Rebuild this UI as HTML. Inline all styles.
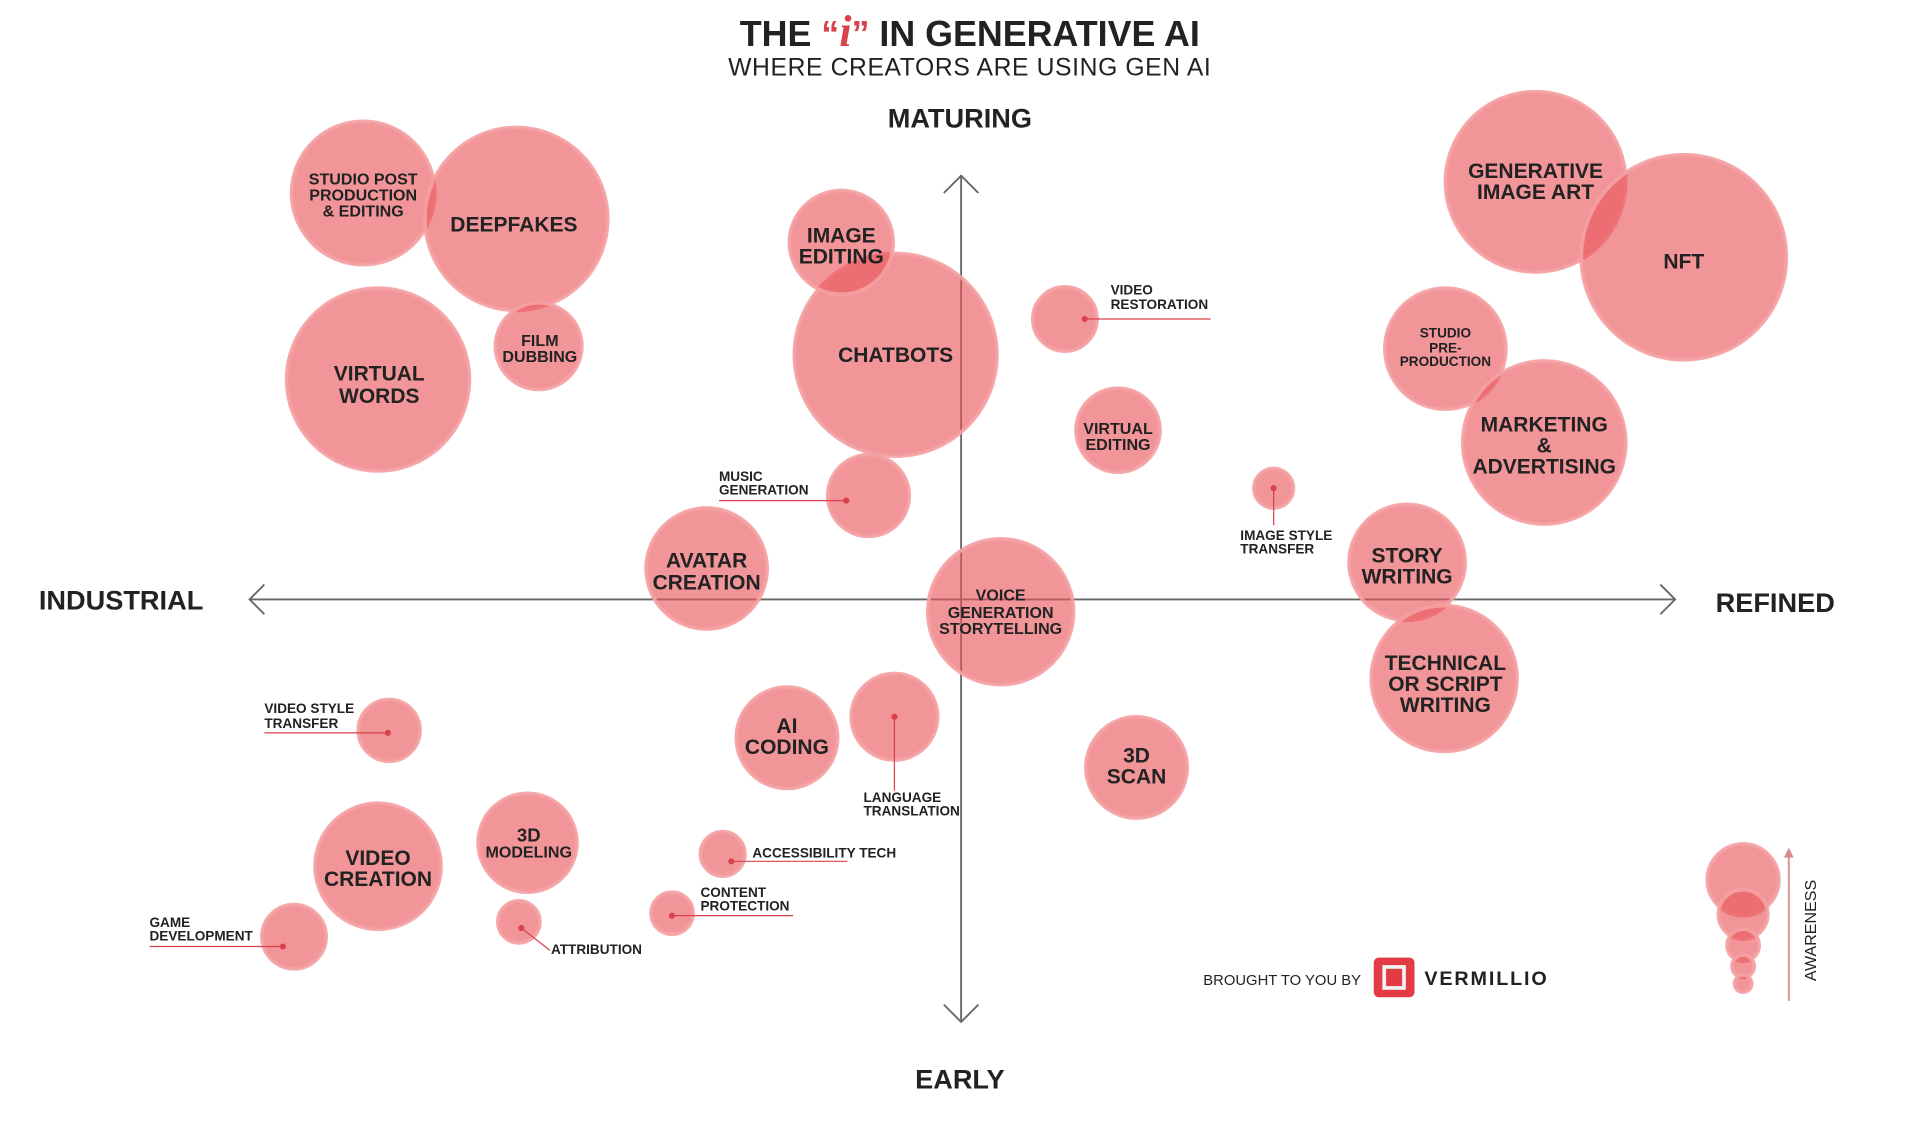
<!DOCTYPE html>
<html><head><meta charset="utf-8"><style>
html,body{margin:0;padding:0;background:#fff;}
svg{display:block;}
text{font-family:"Liberation Sans",sans-serif;fill:#222;}
.b{font-weight:bold;text-anchor:middle;}
.s{font-weight:bold;font-size:11px;}
circle.c{fill:rgba(232,84,90,0.62);stroke:rgba(244,160,162,0.9);stroke-width:3;}
</style></head><body>
<svg width="1921" height="1121" viewBox="0 0 1555 907" xmlns="http://www.w3.org/2000/svg">
<rect width="1555" height="907" fill="#fff"/>
<text x="785" y="37" class="b" font-size="29" fill="#23272b">THE <tspan fill="#d8434b">“</tspan><tspan fill="#d8434b" font-family="Liberation Serif" font-style="italic" font-size="36">i</tspan><tspan fill="#d8434b">”</tspan> IN GENERATIVE AI</text>
<text x="785" y="61" text-anchor="middle" font-size="20" fill="#333" style="letter-spacing:0.5px">WHERE CREATORS ARE USING GEN AI</text>
<text x="777" y="103" class="b" font-size="22">MATURING</text>
<text x="777" y="881" class="b" font-size="22">EARLY</text>
<text x="98" y="493" class="b" font-size="22">INDUSTRIAL</text>
<text x="1437" y="495" class="b" font-size="22">REFINED</text>
<g stroke="#666" stroke-width="1.5" fill="none">
<line x1="202" y1="485" x2="1356" y2="485"/>
<polyline points="214,473 202,485 214,497"/><polyline points="1344,473 1356,485 1344,497"/>
<line x1="778" y1="142" x2="778" y2="827"/>
<polyline points="764,156 778,142 792,156"/><polyline points="764,813 778,827 792,813"/>
</g>
<g>
<circle class="c" cx="294" cy="156" r="58"/>
<circle class="c" cx="418" cy="177" r="74"/>
<circle class="c" cx="306" cy="307" r="74"/>
<circle class="c" cx="436" cy="280" r="35"/>
<circle class="c" cx="725" cy="287" r="82"/>
<circle class="c" cx="681" cy="196" r="42"/>
<circle class="c" cx="862" cy="258" r="26"/>
<circle class="c" cx="905" cy="348" r="34"/>
<circle class="c" cx="703" cy="401" r="33"/>
<circle class="c" cx="572" cy="460" r="49"/>
<circle class="c" cx="810" cy="495" r="59"/>
<circle class="c" cx="1031" cy="395" r="16"/>
<circle class="c" cx="1139" cy="455" r="47"/>
<circle class="c" cx="1169" cy="549" r="59"/>
<circle class="c" cx="1243" cy="147" r="73"/>
<circle class="c" cx="1363" cy="208" r="83"/>
<circle class="c" cx="1170" cy="282" r="49"/>
<circle class="c" cx="1250" cy="358" r="66"/>
<circle class="c" cx="920" cy="621" r="41"/>
<circle class="c" cx="724" cy="580" r="35"/>
<circle class="c" cx="637" cy="597" r="41"/>
<circle class="c" cx="315" cy="591" r="25"/>
<circle class="c" cx="306" cy="701" r="51"/>
<circle class="c" cx="427" cy="682" r="40"/>
<circle class="c" cx="585" cy="691" r="18"/>
<circle class="c" cx="544" cy="739" r="17"/>
<circle class="c" cx="420" cy="746" r="17"/>
<circle class="c" cx="238" cy="758" r="26"/>
<circle class="c" cx="1411" cy="712" r="29"/>
<circle class="c" cx="1411" cy="740" r="20"/>
<circle class="c" cx="1411" cy="765" r="13"/>
<circle class="c" cx="1411" cy="782" r="9"/>
<circle class="c" cx="1411" cy="796" r="7"/>
</g>
<g class="b" font-size="13">
<text x="294" y="149">STUDIO POST</text><text x="294" y="162">PRODUCTION</text><text x="294" y="175">&amp; EDITING</text>
</g>
<g class="b" font-size="17">
<text x="416" y="187">DEEPFAKES</text>
<text x="307" y="308">VIRTUAL</text><text x="307" y="326">WORDS</text>
<text x="681" y="196">IMAGE</text><text x="681" y="213">EDITING</text>
<text x="725" y="293">CHATBOTS</text>
<text x="572" y="459">AVATAR</text><text x="572" y="477">CREATION</text>
<text x="1243" y="144">GENERATIVE</text><text x="1243" y="161">IMAGE ART</text>
<text x="1363" y="217">NFT</text>
<text x="1250" y="349">MARKETING</text><text x="1250" y="366">&amp;</text><text x="1250" y="383">ADVERTISING</text>
<text x="1139" y="455">STORY</text><text x="1139" y="472">WRITING</text>
<text x="1170" y="542">TECHNICAL</text><text x="1170" y="559">OR SCRIPT</text><text x="1170" y="576">WRITING</text>
<text x="920" y="617">3D</text><text x="920" y="634">SCAN</text>
<text x="637" y="593">AI</text><text x="637" y="610">CODING</text>
<text x="306" y="700">VIDEO</text><text x="306" y="717">CREATION</text>
</g>
<g class="b" font-size="13">
<text x="437" y="280">FILM</text><text x="437" y="293">DUBBING</text>
<text x="905" y="351">VIRTUAL</text><text x="905" y="364">EDITING</text>
<text x="810" y="486">VOICE</text><text x="810" y="500">GENERATION</text><text x="810" y="513">STORYTELLING</text>
<text x="1170" y="273" font-size="11">STUDIO</text><text x="1170" y="285" font-size="11">PRE-</text><text x="1170" y="296" font-size="11">PRODUCTION</text>
<text x="428" y="681" font-size="15">3D</text><text x="428" y="694">MODELING</text>
</g>
<g stroke="#d8434b" stroke-width="1" fill="#d8434b">
<line x1="878" y1="258" x2="980" y2="258"/><circle cx="878" cy="258" r="2"/>
<line x1="582" y1="405" x2="685" y2="405"/><circle cx="685" cy="405" r="2"/>
<line x1="1031" y1="395" x2="1031" y2="425"/><circle cx="1031" cy="395" r="2"/>
<line x1="214" y1="593" x2="314" y2="593"/><circle cx="314" cy="593" r="2"/>
<line x1="724" y1="580" x2="724" y2="640"/><circle cx="724" cy="580" r="2"/>
<line x1="592" y1="697" x2="686" y2="697"/><circle cx="592" cy="697" r="2"/>
<line x1="544" y1="741" x2="642" y2="741"/><circle cx="544" cy="741" r="2"/>
<line x1="422" y1="751" x2="445" y2="769"/><circle cx="422" cy="751" r="2"/>
<line x1="121" y1="766" x2="229" y2="766"/><circle cx="229" cy="766" r="2"/>
</g>
<g class="s">
<text x="899" y="238">VIDEO</text><text x="899" y="250">RESTORATION</text>
<text x="582" y="389">MUSIC</text><text x="582" y="400">GENERATION</text>
<text x="1004" y="437">IMAGE STYLE</text><text x="1004" y="448">TRANSFER</text>
<text x="214" y="577">VIDEO STYLE</text><text x="214" y="589">TRANSFER</text>
<text x="699" y="649">LANGUAGE</text><text x="699" y="660">TRANSLATION</text>
<text x="609" y="694">ACCESSIBILITY TECH</text>
<text x="567" y="726">CONTENT</text><text x="567" y="737">PROTECTION</text>
<text x="446" y="772">ATTRIBUTION</text>
<text x="121" y="750">GAME</text><text x="121" y="761">DEVELOPMENT</text>
</g>
<text x="974" y="797" font-size="12" fill="#333">BROUGHT TO YOU BY</text>
<rect x="1112" y="775" width="33" height="32" rx="4" fill="#e23b44"/>
<rect x="1119" y="781" width="19" height="20" fill="#f2f2f2"/>
<rect x="1122" y="784" width="13" height="14" fill="#e23b44"/>
<text x="1153" y="797" font-size="16" font-weight="bold" fill="#e23b44" style="letter-spacing:1.5px">VERMILLIO</text>
<line x1="1448" y1="690" x2="1448" y2="810" stroke="#d98a8c" stroke-width="1.5"/>
<polygon points="1444,694 1452,694 1448,686" fill="#d98a8c"/>
<text transform="translate(1470,794) rotate(-90)" font-size="13" fill="#333">AWARENESS</text>
</svg>
</body></html>
